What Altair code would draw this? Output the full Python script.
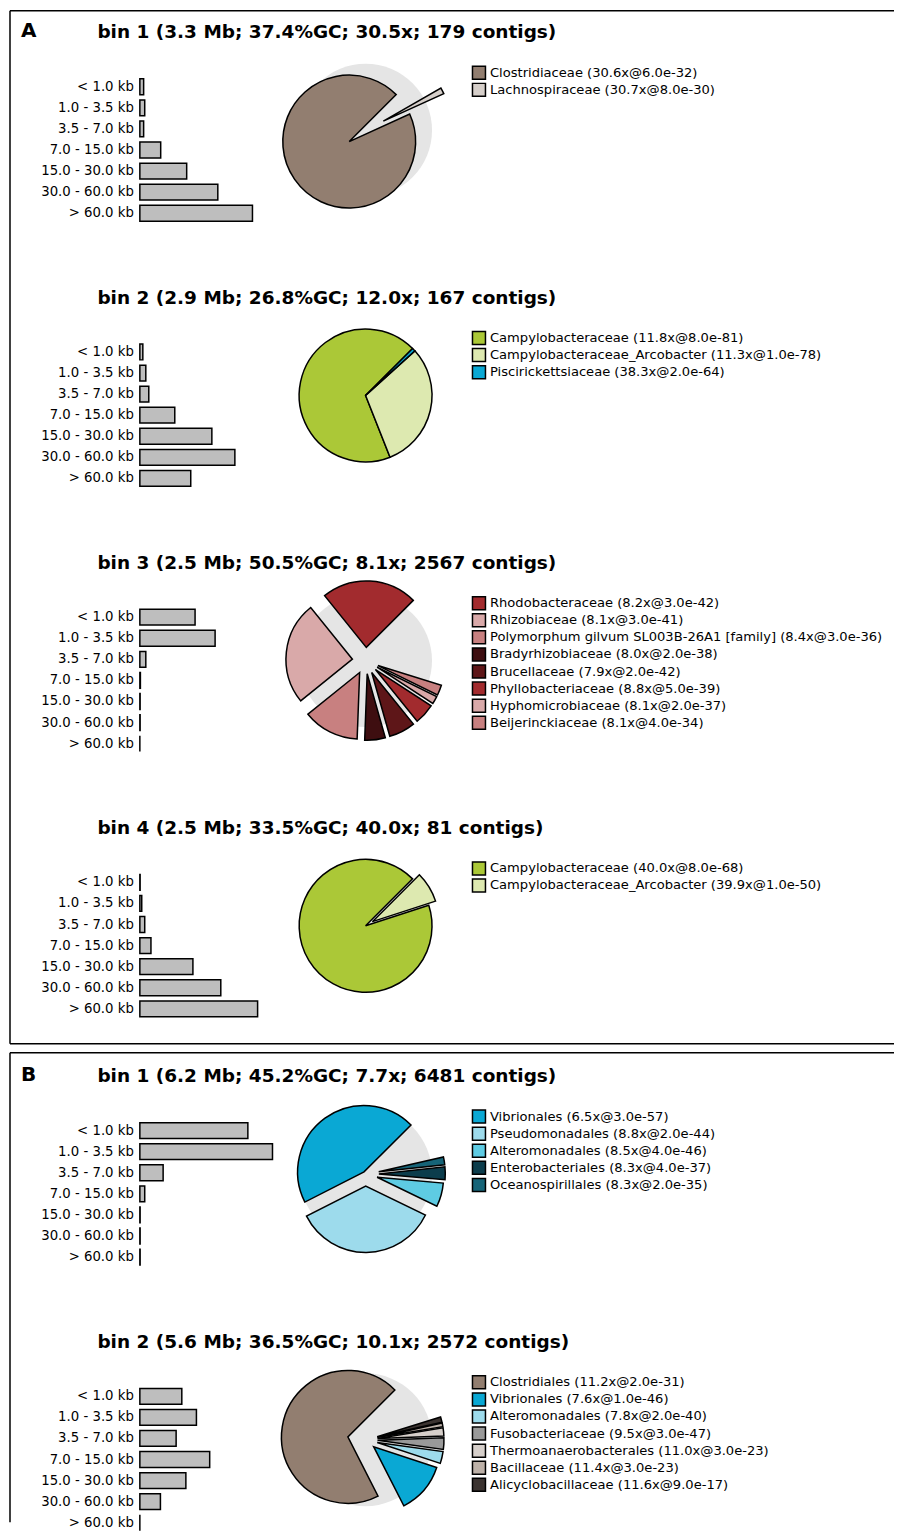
import math
import altair as alt
import pandas as pd

FONT = "DejaVu Sans"

SIZE_CLASSES = ["< 1.0 kb", "1.0 - 3.5 kb", "3.5 - 7.0 kb", "7.0 - 15.0 kb",
                "15.0 - 30.0 kb", "30.0 - 60.0 kb", "> 60.0 kb"]

# ---------------- Panel A ----------------
A1_TITLE = "bin 1 (3.3 Mb; 37.4%GC; 30.5x; 179 contigs)"
A1_LENGTHS = [1.4, 1.8, 1.4, 7.7, 17.3, 28.8, 41.6]
A1_TAXA = ["Clostridiaceae (30.6x@6.0e-32)", "Lachnospiraceae (30.7x@8.0e-30)"]
A1_SHARES = [0.943, 0.015]

A2_TITLE = "bin 2 (2.9 Mb; 26.8%GC; 12.0x; 167 contigs)"
A2_LENGTHS = [1.1, 2.2, 3.3, 12.9, 26.6, 35.1, 18.8]
A2_TAXA = ["Campylobacteraceae (11.8x@8.0e-81)",
           "Campylobacteraceae_Arcobacter (11.3x@1.0e-78)",
           "Piscirickettsiaceae (38.3x@2.0e-64)"]
A2_SHARES = [0.685, 0.307, 0.008]

A3_TITLE = "bin 3 (2.5 Mb; 50.5%GC; 8.1x; 2567 contigs)"
A3_LENGTHS = [20.4, 27.8, 2.2, 0.2, 0.1, 0.1, 0.0]
A3_TAXA = ["Rhodobacteraceae (8.2x@3.0e-42)", "Rhizobiaceae (8.1x@3.0e-41)",
           "Polymorphum gilvum SL003B-26A1 [family] (8.4x@3.0e-36)",
           "Bradyrhizobiaceae (8.0x@2.0e-38)", "Brucellaceae (7.9x@2.0e-42)",
           "Phyllobacteriaceae (8.8x@5.0e-39)", "Hyphomicrobiaceae (8.1x@2.0e-37)",
           "Beijerinckiaceae (8.1x@4.0e-34)"]
A3_SHARES = [0.233, 0.25, 0.136, 0.05, 0.064, 0.05, 0.019, 0.025]

A4_TITLE = "bin 4 (2.5 Mb; 33.5%GC; 40.0x; 81 contigs)"
A4_LENGTHS = [0.1, 0.7, 1.8, 4.1, 19.6, 29.9, 43.5]
A4_TAXA = ["Campylobacteraceae (40.0x@8.0e-68)",
           "Campylobacteraceae_Arcobacter (39.9x@1.0e-50)"]
A4_SHARES = [0.925, 0.075]

# ---------------- Panel B ----------------
B1_TITLE = "bin 1 (6.2 Mb; 45.2%GC; 7.7x; 6481 contigs)"
B1_LENGTHS = [39.9, 49.0, 8.6, 1.8, 0.1, 0.1, 0.1]
B1_TAXA = ["Vibrionales (6.5x@3.0e-57)", "Pseudomonadales (8.8x@2.0e-44)",
           "Alteromonadales (8.5x@4.0e-46)", "Enterobacteriales (8.3x@4.0e-37)",
           "Oceanospirillales (8.3x@2.0e-35)"]
B1_SHARES = [0.45, 0.353, 0.058, 0.031, 0.019]

B2_TITLE = "bin 2 (5.6 Mb; 36.5%GC; 10.1x; 2572 contigs)"
B2_LENGTHS = [15.5, 20.9, 13.4, 25.8, 17.0, 7.6, 0.0]
B2_TAXA = ["Clostridiales (11.2x@2.0e-31)", "Vibrionales (7.6x@1.0e-46)",
           "Alteromonadales (7.8x@2.0e-40)", "Fusobacteriaceae (9.5x@3.0e-47)",
           "Thermoanaerobacterales (11.0x@3.0e-23)", "Bacillaceae (11.4x@3.0e-23)",
           "Alicyclobacillaceae (11.6x@9.0e-17)"]
B2_SHARES = [0.70, 0.124, 0.029, 0.028, 0.02, 0.009, 0.013]

# ---------------- styles ----------------
A1_COLORS = ["#927e70", "#d6cfca"]
A2_COLORS = ["#abc837", "#dde9b0", "#0aa8d4"]
A3_COLORS = ["#a22b2e", "#d9a9a9", "#c88080", "#3e0e10", "#5e1618",
             "#a22b2e", "#d9a9a9", "#c88080"]
A4_COLORS = ["#abc837", "#dde9b0"]
B1_COLORS = ["#0aa8d4", "#9ddbec", "#5ecbe3", "#0c3d4c", "#166478"]
B2_COLORS = ["#927e70", "#0aa8d4", "#9ddbec", "#999999", "#d6cfca", "#bdb1a8", "#3b3330"]

A1_EXPLODE = [0.3, 0.3]
A2_EXPLODE = [0.0, 0.0, 0.0]
A3_EXPLODE = [0.2] * 8
A4_EXPLODE = [0.0, 0.12]
B1_EXPLODE = [0.04, 0.18, 0.18, 0.2, 0.2]
B2_EXPLODE = [0.27, 0.16, 0.18, 0.18, 0.18, 0.18, 0.18]

STEP = 21.1
R = 66.5
PIE_CX = 356
START = math.pi / 4
W = 885


def frame(width, height, bottom):
    one = pd.DataFrame({"k": [0]})
    rules = [
        alt.Chart(one).mark_rule(color="black", strokeWidth=1.5)
        .encode(x=alt.value(0), x2=alt.value(width), y=alt.value(0)),
        alt.Chart(one).mark_rule(color="black", strokeWidth=1.5)
        .encode(x=alt.value(0), y=alt.value(0), y2=alt.value(height)),
    ]
    if bottom:
        rules.append(
            alt.Chart(one).mark_rule(color="black", strokeWidth=1.5)
            .encode(x=alt.value(0), x2=alt.value(width), y=alt.value(height))
        )
    return rules


def bin_layers(title, lengths, taxa, shares, colors, explode, top):
    layers = []
    layers.append(
        alt.Chart(pd.DataFrame({"t": [title]}))
        .mark_text(align="left", baseline="middle", font=FONT, fontSize=18.5,
                   fontWeight="bold", color="black")
        .encode(x=alt.value(87.5), y=alt.value(top), text="t:N")
    )
    bdf = pd.DataFrame({"cls": SIZE_CLASSES, "share": lengths})
    y0 = top + 54.5 - STEP / 2
    ysc = alt.Scale(domain=SIZE_CLASSES, range=[y0, y0 + 7 * STEP],
                    paddingInner=0.25, paddingOuter=0.125)
    xsc = alt.Scale(domain=[0, 100], range=[130, 401])
    layers.append(
        alt.Chart(bdf)
        .mark_bar(fill="#bebebe", stroke="black", strokeWidth=1.5)
        .encode(x=alt.X("share:Q", scale=xsc, axis=None),
                y=alt.Y("cls:N", scale=ysc, axis=None, sort=None))
    )
    layers.append(
        alt.Chart(bdf)
        .mark_text(align="right", baseline="middle", font=FONT, fontSize=13.3, color="black")
        .encode(x=alt.value(124),
                y=alt.Y("cls:N", scale=ysc, axis=None, sort=None),
                text="cls:N")
    )
    cy = top + 98
    pxs = alt.Scale(domain=[-1, 1], range=[PIE_CX - R, PIE_CX + R])
    pys = alt.Scale(domain=[-1, 1], range=[cy + R, cy - R])
    layers.append(
        alt.Chart(pd.DataFrame({"px": [0.0], "py": [0.0]}))
        .mark_arc(outerRadius=R, theta=0, theta2=2 * math.pi, fill="#e5e5e5")
        .encode(x=alt.X("px:Q", scale=pxs, axis=None),
                y=alt.Y("py:Q", scale=pys, axis=None))
    )
    pdf = pd.DataFrame({"taxon": taxa, "share": shares, "explode": explode,
                        "order": list(range(len(taxa)))})
    pie = (
        alt.Chart(pdf)
        .transform_window(cum="sum(share)", sort=[alt.SortField("order")], frame=[None, 0])
        .transform_calculate(t0="datum.cum - datum.share", t1="datum.cum",
                             mid="datum.cum - datum.share / 2")
        .transform_calculate(ang=f"{START} - 2 * PI * datum.mid")
        .transform_calculate(px="datum.explode * sin(datum.ang)",
                             py="datum.explode * cos(datum.ang)")
        .mark_arc(outerRadius=R, stroke="black", strokeWidth=1.5)
        .encode(
            theta=alt.Theta("t0:Q", stack=None,
                            scale=alt.Scale(domain=[0, 1], range=[START, START - 2 * math.pi])),
            theta2="t1:Q",
            x=alt.X("px:Q", scale=pxs, axis=None),
            y=alt.Y("py:Q", scale=pys, axis=None),
            color=alt.Color(
                "taxon:N",
                scale=alt.Scale(domain=taxa, range=colors),
                legend=alt.Legend(orient="none", legendX=462, legendY=top + 41 - 8,
                                  title=None, symbolType="square", symbolSize=169,
                                  symbolStrokeColor="black", symbolStrokeWidth=1.5,
                                  symbolOpacity=1, labelFont=FONT, labelFontSize=13.1,
                                  labelColor="black", labelLimit=700, rowPadding=-1.9,
                                  padding=0, labelOffset=3.5),
            ),
            order="order:Q",
        )
    )
    layers.append(pie)
    return layers


def panel(letter, bins, tops, height, bottom):
    layers = frame(W, height, bottom)
    layers.append(
        alt.Chart(pd.DataFrame({"t": [letter]}))
        .mark_text(align="left", baseline="middle", font=FONT, fontSize=20,
                   fontWeight="bold", color="black")
        .encode(x=alt.value(11), y=alt.value(tops[0] - 1), text="t:N")
    )
    for b, top in zip(bins, tops):
        layers.extend(bin_layers(*b, top))
    return (
        alt.layer(*layers)
        .resolve_scale(x="independent", y="independent", color="independent",
                       theta="independent")
        .properties(width=W, height=height)
    )


BINS_A = [
    (A1_TITLE, A1_LENGTHS, A1_TAXA, A1_SHARES, A1_COLORS, A1_EXPLODE),
    (A2_TITLE, A2_LENGTHS, A2_TAXA, A2_SHARES, A2_COLORS, A2_EXPLODE),
    (A3_TITLE, A3_LENGTHS, A3_TAXA, A3_SHARES, A3_COLORS, A3_EXPLODE),
    (A4_TITLE, A4_LENGTHS, A4_TAXA, A4_SHARES, A4_COLORS, A4_EXPLODE),
]
BINS_B = [
    (B1_TITLE, B1_LENGTHS, B1_TAXA, B1_SHARES, B1_COLORS, B1_EXPLODE),
    (B2_TITLE, B2_LENGTHS, B2_TAXA, B2_SHARES, B2_COLORS, B2_EXPLODE),
]

panel_a = panel("A", BINS_A, [21.5, 287, 552.5, 818], 1034, True)
panel_b = panel("B", BINS_B, [23.5, 289.5], 470, False)

chart = (
    alt.vconcat(panel_a, panel_b, spacing=7)
    .properties(padding={"left": 1, "top": 1, "right": 0, "bottom": 0})
    .configure(background="white")
    .configure_view(stroke="transparent", strokeWidth=0)
)

chart.save("out.html", embed_options={"renderer": "svg", "actions": False})
